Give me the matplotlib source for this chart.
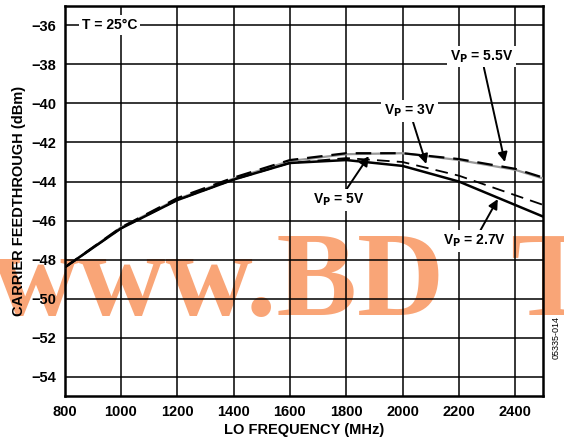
import matplotlib.pyplot as plt
import numpy as np

plt.rcParams['font.family'] = ['Liberation Sans', 'DejaVu Sans']
plt.rcParams['font.weight'] = 'bold'

freq = [800, 1000, 1200, 1400, 1600, 1800, 2000, 2200, 2400, 2500]
vp55 = [-48.4, -46.35, -44.9, -43.85, -42.95, -42.6, -42.55, -42.9, -43.4, -43.85]
vp5 = [-48.4, -46.35, -44.85, -43.8, -42.9, -42.55, -42.55, -42.85, -43.35, -43.8]
vp3 = [-48.4, -46.4, -44.95, -43.9, -43.05, -42.8, -43.0, -43.7, -44.7, -45.2]
vp27 = [-48.4, -46.4, -44.95, -43.9, -43.05, -42.9, -43.2, -44.0, -45.2, -45.8]

fig = plt.figure(figsize=(5.64, 4.4), dpi=100)
ax = fig.add_axes([0.1145, 0.099, 0.849, 0.888])
ax.patch.set_alpha(0)

ax.plot(freq, vp55, color='#999999', lw=1.6, zorder=3)
ax.plot(freq, vp5, color='black', lw=1.6, dashes=(7, 4), zorder=4)
ax.plot(freq, vp3, color='black', lw=1.3, dashes=(7, 4), zorder=4)
ax.plot(freq, vp27, color='black', lw=1.8, zorder=3)

ax.set_xlim(800, 2500)
ax.set_ylim(-55, -35)
ax.set_xticks(range(800, 2500, 200))
ax.set_yticks(range(-54, -35, 2))
ax.set_yticklabels(['\u2212%d' % abs(v) for v in range(-54, -35, 2)])
ax.grid(True, color='black', lw=1.1)
ax.tick_params(length=0, labelsize=10.5, pad=6)
for s in ax.spines.values():
    s.set_linewidth(1.8)

ax.set_xlabel('LO FREQUENCY (MHz)', fontsize=10.5, fontweight='bold', labelpad=3)
ax.set_ylabel('CARRIER FEEDTHROUGH (dBm)', fontsize=10.5, fontweight='bold', labelpad=4)

box = dict(facecolor='white', edgecolor='none', pad=2)
ax.text(960, -36, 'T = 25°C', fontsize=10, ha='center', va='center', bbox=box, zorder=6)

arrow = dict(arrowstyle='-|>', color='black', lw=1.4, mutation_scale=14, shrinkA=0, shrinkB=0)
ax.annotate(r'V$_\mathbf{P}$ = 5.5V', xy=(2363, -43.0), xytext=(2280, -37.6),
            fontsize=10, ha='center', va='center', bbox=box, zorder=6,
            arrowprops=arrow)
ax.annotate(r'V$_\mathbf{P}$ = 3V', xy=(2084, -43.1), xytext=(2025, -40.4),
            fontsize=10, ha='center', va='center', bbox=box, zorder=6,
            arrowprops=arrow)
ax.annotate(r'V$_\mathbf{P}$ = 5V', xy=(1880, -42.7), xytext=(1775, -44.95),
            fontsize=10, ha='center', va='center', bbox=box, zorder=6,
            arrowprops=arrow)
ax.annotate(r'V$_\mathbf{P}$ = 2.7V', xy=(2338, -44.9), xytext=(2255, -47.05),
            fontsize=10, ha='center', va='center', bbox=box, zorder=6,
            arrowprops=arrow)

fig.text(0.986, 0.232, '05335-014', rotation=90, fontsize=6.5, fontweight='normal',
         ha='center', va='center')

# watermark
wm = dict(fontsize=87, family='Liberation Serif', fontweight='bold',
          color='#F9A577', va='baseline', zorder=-1)
fig.text(-0.015, 0.285, 'www.BD', ha='left', **wm)
fig.text(0.905, 0.285, 'T', ha='left', **wm)

fig.savefig('out.png', dpi=100)
